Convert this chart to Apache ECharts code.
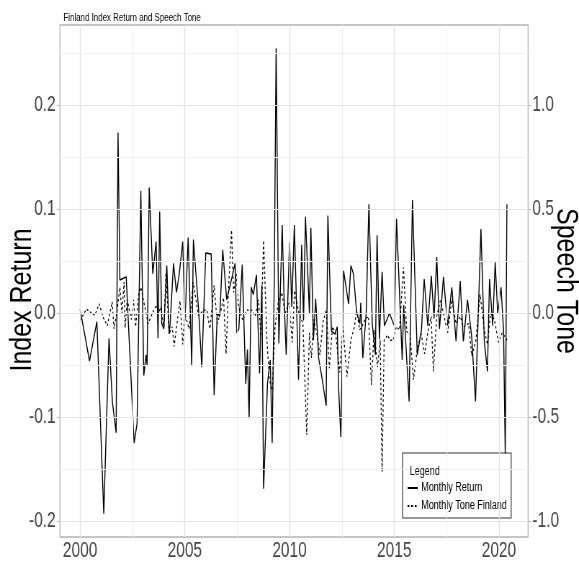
<!DOCTYPE html>
<html>
<head>
<meta charset="utf-8">
<script src="https://cdn.jsdelivr.net/npm/echarts@6/dist/echarts.min.js"></script>
<style>
html,body{margin:0;padding:0;background:#fff;}
#wrap{width:579px;height:568px;overflow:hidden;position:relative;}
#chart{width:804px;height:568px;transform:scaleX(0.7201);transform-origin:0 0;}
</style>
</head>
<body>
<div id="wrap"><div id="chart"></div></div>
<script>
// ---- data (decimal year, value) ----
const returnDates = [2000.0,2000.45,2000.8,2001.13,2001.38,2001.54,2001.6,2001.72,2001.81,2001.9,2002.2,2002.58,2002.72,2002.9,2003.04,2003.15,2003.2,2003.3,2003.47,2003.63,2003.72,2003.8,2003.9,2004.0,2004.14,2004.25,2004.3,2004.46,2004.6,2004.73,2004.9,2005.01,2005.16,2005.33,2005.41,2005.65,2005.81,2006.0,2006.26,2006.4,2006.55,2006.67,2006.81,2007.0,2007.2,2007.4,2007.48,2007.58,2007.74,2007.91,2007.99,2008.07,2008.17,2008.27,2008.42,2008.57,2008.68,2008.76,2008.95,2009.08,2009.17,2009.27,2009.36,2009.49,2009.65,2009.74,2009.84,2010.0,2010.11,2010.23,2010.43,2010.58,2010.67,2010.76,2010.95,2011.02,2011.14,2011.25,2011.39,2011.54,2011.75,2011.83,2012.0,2012.16,2012.28,2012.34,2012.45,2012.58,2012.82,2012.93,2013.05,2013.2,2013.36,2013.4,2013.5,2013.66,2013.79,2013.95,2014.1,2014.18,2014.29,2014.42,2014.53,2014.77,2015.0,2015.11,2015.38,2015.45,2015.71,2015.87,2016.1,2016.3,2016.43,2016.6,2016.77,2016.9,2017.03,2017.16,2017.35,2017.55,2017.75,2017.95,2018.15,2018.3,2018.5,2018.7,2018.88,2019.14,2019.3,2019.45,2019.55,2019.7,2019.82,2019.94,2020.1,2020.22,2020.3,2020.38];
const returnValues = [0.004,-0.046,-0.008,-0.193,-0.024,-0.085,-0.085,-0.115,0.174,0.032,0.035,-0.125,-0.106,0.118,-0.06,-0.04,-0.05,0.121,0.038,0.069,-0.024,0.098,-0.01,-0.015,0.046,-0.02,-0.01,0.048,0.02,0.037,0.069,-0.007,0.073,-0.05,0.071,0.006,-0.052,0.058,0.057,-0.079,0.0,-0.003,0.061,0.013,0.03,0.048,-0.019,-0.015,0.047,-0.068,-0.035,-0.101,0.025,0.018,0.037,-0.058,0.027,-0.169,-0.067,-0.045,-0.125,0.03,0.255,-0.029,0.085,0.014,-0.04,0.068,0.006,0.085,-0.064,0.066,-0.007,0.093,0.0,0.082,-0.026,0.014,-0.043,-0.061,-0.089,0.094,-0.017,-0.02,-0.013,-0.07,-0.119,0.041,0.009,0.046,0.038,0.002,-0.01,0.01,-0.043,0.0,0.105,-0.01,-0.04,0.075,-0.025,0.04,-0.012,0.0,-0.012,0.091,-0.045,0.008,-0.085,0.109,-0.04,-0.016,0.033,-0.012,0.036,-0.005,0.054,-0.015,0.035,-0.012,0.025,-0.027,0.031,-0.027,0.013,-0.023,-0.085,0.081,-0.027,-0.056,0.033,-0.012,0.049,0.0,0.025,-0.017,-0.135,0.105];

const toneDates = [2000.0,2000.3,2000.5,2000.7,2000.91,2001.1,2001.3,2001.53,2001.62,2001.75,2001.9,2002.0,2002.1,2002.15,2002.25,2002.45,2002.55,2002.65,2002.8,2002.9,2003.05,2003.25,2003.45,2003.65,2003.75,2003.85,2004.0,2004.1,2004.25,2004.4,2004.49,2004.65,2004.77,2004.9,2005.0,2005.2,2005.4,2005.65,2005.9,2006.05,2006.2,2006.4,2006.55,2006.7,2006.85,2006.97,2007.08,2007.23,2007.33,2007.45,2007.57,2007.77,2007.96,2008.2,2008.36,2008.52,2008.63,2008.76,2008.92,2009.04,2009.17,2009.31,2009.47,2009.63,2009.79,2009.98,2010.13,2010.24,2010.45,2010.64,2010.82,2010.95,2011.05,2011.15,2011.3,2011.45,2011.6,2011.76,2011.9,2012.05,2012.2,2012.4,2012.55,2012.74,2012.93,2013.1,2013.2,2013.35,2013.45,2013.6,2013.77,2013.91,2014.04,2014.2,2014.33,2014.42,2014.52,2014.68,2014.8,2014.95,2015.1,2015.25,2015.44,2015.6,2015.75,2015.92,2016.1,2016.28,2016.45,2016.6,2016.76,2016.87,2017.03,2017.2,2017.35,2017.55,2017.75,2017.95,2018.15,2018.3,2018.55,2018.7,2018.9,2019.1,2019.3,2019.45,2019.6,2019.78,2019.98,2020.15,2020.3,2020.38];
const toneValues = [-0.035,0.02,0.005,-0.01,0.045,-0.02,-0.06,0.055,-0.075,0,0.125,0,0.15,-0.07,0.065,-0.03,0.065,-0.065,0.095,0.125,0.05,-0.05,0,0.04,0,0.03,-0.065,0.19,-0.1,-0.065,-0.16,-0.03,0.06,-0.15,0,-0.075,0.15,-0.01,0.015,0.015,-0.075,0.135,-0.05,0,0.075,-0.195,0.1,0.4,0.1,0.19,0.03,-0.035,0.015,0.015,-0.015,0.065,-0.11,0.35,-0.13,-0.32,-0.37,-0.065,0.06,0.1,0,0.05,-0.14,0.11,0,-0.05,-0.585,-0.095,-0.215,-0.03,-0.095,-0.2,-0.04,0.015,-0.265,-0.065,-0.095,-0.285,-0.065,-0.305,-0.13,-0.065,0.015,-0.08,-0.065,-0.03,-0.015,-0.345,-0.08,-0.26,-0.13,-0.765,-0.13,-0.105,-0.13,-0.13,-0.065,-0.08,0.22,-0.09,-0.095,-0.32,-0.175,-0.095,-0.195,-0.095,-0.015,-0.28,-0.015,0.06,0,-0.095,0.065,-0.05,-0.015,-0.065,-0.05,-0.205,-0.13,0.09,-0.08,-0.15,0,-0.03,-0.14,-0.095,-0.115,-0.13];

// ---- ticks ----
const xTicks = [2000, 2005, 2010, 2015, 2020];
const xMinor = [2002.5, 2007.5, 2012.5, 2017.5];
const yLeftTicks = [-0.2, -0.1, 0.0, 0.1, 0.2];
const yLeftMinor = [-0.15, -0.05, 0.05, 0.15, 0.25];
const yRightTicks = [-1.0, -0.5, 0.0, 0.5, 1.0];

const xMin = 1999.04, xMax = 2021.39;
const yMin = -0.2154, yMax = 0.2775;
const toneScale = 5; // secondary axis = 5 x primary

const SQ = 0.7201; // horizontal squeeze applied by CSS
const FONT = "'Liberation Sans', Arial, sans-serif";
const labelColor = '#444444';
const borderColor = '#b3b3b3';

const gridLines = [];
xTicks.forEach(v => gridLines.push({xAxis: v, lineStyle: {color: '#e3e3e3', width: 1.4, type: 'solid'}}));
xMinor.forEach(v => gridLines.push({xAxis: v, lineStyle: {color: '#efefef', width: 1.2, type: 'solid'}}));
yLeftTicks.forEach(v => gridLines.push({yAxis: v, lineStyle: {color: '#e3e3e3', width: 1, type: 'solid'}}));
yLeftMinor.forEach(v => gridLines.push({yAxis: v, lineStyle: {color: '#efefef', width: 1, type: 'solid'}}));

const nameStyle = {fontFamily: FONT, fontSize: 30, fill: '#000', align: 'center', verticalAlign: 'middle'};

const chart = echarts.init(document.getElementById('chart'), null, {renderer: 'canvas'});
chart.setOption({
  animation: false,
  backgroundColor: '#fff',
  title: [
    {text: 'Finland Index Return and Speech Tone', left: 83, top: 7,
     textStyle: {fontFamily: FONT, fontSize: 11, fontWeight: 'normal', color: '#000'}},
    {text: 'Legend', left: 564, top: 460,
     textStyle: {fontFamily: FONT, fontSize: 12.5, fontWeight: 'normal', color: '#000'}}
  ],
  graphic: [
    {type: 'text', x: 32, y: 300, rotation: Math.PI / 2, scaleX: 0.833, scaleY: 1 / SQ, silent: true,
     style: Object.assign({text: 'Index Return'}, nameStyle)},
    {type: 'text', x: 785, y: 281, rotation: -Math.PI / 2, scaleX: 0.833, scaleY: 1 / SQ, silent: true,
     style: Object.assign({text: 'Speech Tone'}, nameStyle)}
  ],
  grid: {left: 83.3, right: 70.7, top: 25, bottom: 31, show: true, outerBoundsMode: 'none', containLabel: false,
         borderColor: borderColor, borderWidth: 1.3, backgroundColor: '#fff'},
  legend: {
    orient: 'vertical', left: 559, top: 453,
    padding: [28, 6, 5, 6], itemGap: 4, itemWidth: 14, itemHeight: 10,
    borderColor: '#333', borderWidth: 1.2, backgroundColor: '#fff',
    itemStyle: {opacity: 0, borderWidth: 0},
    textStyle: {fontFamily: FONT, fontSize: 12.5, color: '#000', lineHeight: 14},
    data: ['Monthly Return', 'Monthly Tone Finland']
  },
  xAxis: {
    type: 'value', min: xMin, max: xMax,
    axisLine: {show: false},
    axisTick: {show: true, length: 4, customValues: xTicks, lineStyle: {color: borderColor}},
    axisLabel: {customValues: xTicks, margin: 3, color: labelColor, fontFamily: FONT, fontSize: 21.5,
                formatter: v => String(Math.round(v))},
    splitLine: {show: false}
  },
  yAxis: [
    {type: 'value', min: yMin, max: yMax,
     axisLine: {show: false},
     axisTick: {show: true, length: 4, customValues: yLeftTicks, lineStyle: {color: borderColor}},
     axisLabel: {customValues: yLeftTicks, margin: 6, color: labelColor, fontFamily: FONT, fontSize: 21.5,
                 formatter: v => v.toFixed(1)},
     splitLine: {show: false}},
    {type: 'value', min: yMin * toneScale, max: yMax * toneScale, position: 'right',
     axisLine: {show: false},
     axisTick: {show: true, length: 4, customValues: yRightTicks, lineStyle: {color: borderColor}},
     axisLabel: {customValues: yRightTicks, margin: 6, color: labelColor, fontFamily: FONT, fontSize: 21.5,
                 formatter: v => v.toFixed(1)},
     splitLine: {show: false}}
  ],
  series: [
    {name: 'grid', type: 'line', data: [], xAxisIndex: 0, yAxisIndex: 0, z: 0, silent: true,
     markLine: {silent: true, symbol: ['none', 'none'], label: {show: false}, animation: false, data: gridLines}},
    {name: 'Monthly Tone Finland', type: 'line', yAxisIndex: 1, z: 3, showSymbol: false, symbol: 'none',
     data: toneDates.map((d, i) => [d, toneValues[i]]),
     lineStyle: {color: '#000', width: 1.3, type: [2.5, 2.5]}, itemStyle: {color: '#000'}},
    {name: 'Monthly Return', type: 'line', yAxisIndex: 0, z: 4, showSymbol: false, symbol: 'none',
     data: returnDates.map((d, i) => [d, returnValues[i]]),
     lineStyle: {color: '#000', width: 1.4, type: 'solid'}, itemStyle: {color: '#000'}}
  ]
});
</script>
</body>
</html>
